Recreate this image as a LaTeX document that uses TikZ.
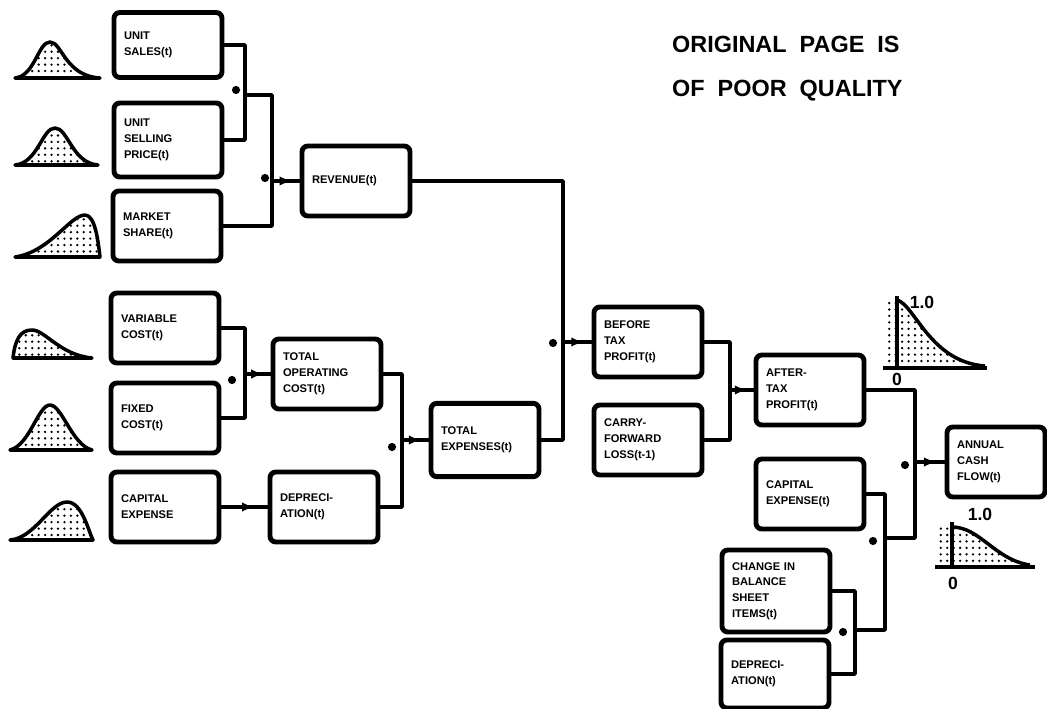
\documentclass[tikz,border=0pt]{standalone}
\usepackage{fontspec}
\setmainfont{Liberation Sans}
\usepackage{tikz}
\usetikzlibrary{arrows.meta,decorations.markings,patterns.meta}
\newcommand{\boxfont}{\fontsize{9.5}{13.5}\selectfont\bfseries}

\begin{document}
\begin{tikzpicture}[x=0.03cm, y=-0.03cm, line join=round,
  stage/.style={draw, line width=4.2pt, rounded corners=5pt, minimum height=2.1cm,
    text width=2.64cm, inner xsep=0.3cm, align=left, font=\boxfont},
  wire/.style={line width=3pt},
  feed/.style={wire, decoration={markings, mark=at position 0.7 with {\arrow[line width=1pt]{Latex[length=10pt,width=8pt]}}}, postaction={decorate}},
  mult/.style={circle, fill, inner sep=0pt, minimum size=7pt},
  dist/.style={line width=3pt, pattern={Dots[radius=1.1pt, distance=5.5pt]}},
  scale label/.style={font=\fontsize{15}{15}\selectfont\bfseries, inner sep=0pt}]
\useasboundingbox (0,0) rectangle (1047,709);

\node[font=\fontsize{20}{20}\selectfont\bfseries, anchor=base west] (note1) at (668,53) {ORIGINAL\ \ PAGE\ \ IS};
\node[font=\fontsize{20}{20}\selectfont\bfseries, anchor=base west] (note2) at (668,97) {OF\ \ POOR\ \ QUALITY};

% input distributions
\draw[dist] (15,78) .. controls (35,76) and (38,42) .. (50,42) .. controls (62,42) and (65,76) .. (100,78) -- cycle;
\draw[dist] (15,165) .. controls (38,163) and (42,128) .. (55,128) .. controls (68,128) and (72,163) .. (98,165) -- cycle;
\draw[dist] (15,257) .. controls (50,252) and (70,215) .. (85,215) .. controls (95,215) and (98,240) .. (100,257) -- cycle;
\draw[dist] (13,358) .. controls (15,340) and (20,330) .. (32,330) .. controls (45,330) and (60,355) .. (92,358) -- cycle;
\draw[dist] (10,450) .. controls (30,445) and (38,405) .. (50,405) .. controls (62,405) and (72,445) .. (92,450) -- cycle;
\draw[dist] (10,540) .. controls (35,538) and (50,502) .. (67,502) .. controls (82,502) and (88,530) .. (93,540) -- cycle;

% blocks
\node[stage, minimum height=1.95cm] (sales) at (168,45) {UNIT\\SALES(t)};
\node[stage, minimum height=2.22cm] (price) at (168,140) {UNIT\\SELLING\\PRICE(t)};
\node[stage] (share) at (167,226) {MARKET\\SHARE(t)};
\node[stage] (revenue) at (356,181) {REVENUE(t)};
\node[stage] (varcost) at (165,328) {VARIABLE\\COST(t)};
\node[stage] (fixcost) at (165,418) {FIXED\\COST(t)};
\node[stage] (capexp) at (165,507) {CAPITAL\\EXPENSE};
\node[stage] (opcost) at (327,374) {TOTAL\\OPERATING\\COST(t)};
\node[stage] (deprec) at (324,507) {DEPRECI-\\ATION(t)};
\node[stage, minimum height=2.2cm] (totexp) at (485,440) {TOTAL\\EXPENSES(t)};
\node[stage] (btprofit) at (648,342) {BEFORE\\TAX\\PROFIT(t)};
\node[stage] (carry) at (648,440) {CARRY-\\FORWARD\\LOSS(t-1)};
\node[stage] (atprofit) at (810,390) {AFTER-\\TAX\\PROFIT(t)};
\node[stage, text width=2.34cm] (cashflow) at (996,462) {ANNUAL\\CASH\\FLOW(t)};
\node[stage] (capexpt) at (810,494) {CAPITAL\\EXPENSE(t)};
\node[stage, minimum height=2.46cm] (change) at (776,591) {CHANGE IN\\BALANCE\\SHEET\\ITEMS(t)};
\node[stage, minimum height=2.04cm] (deprect) at (775,674) {DEPRECI-\\ATION(t)};

% junctions
\coordinate (j1) at (245,95);
\coordinate (j2) at (272,181);
\coordinate (j3) at (245,374);
\coordinate (j4) at (402,440);
\coordinate (j5) at (563,342);
\coordinate (j6) at (730,390);
\coordinate (j7) at (915,462);
\coordinate (j8) at (885,538);
\coordinate (j9) at (855,630);

\draw[wire] (sales.east) -| (j1);
\draw[wire] (price.east) -| (j1);
\draw[wire] (j1) -| (j2);
\draw[wire] (share.east) -| (j2);
\draw[feed] (j2) -- (revenue.west);

\draw[wire] (varcost.east) -| (j3);
\draw[wire] (fixcost.east) -| (j3);
\draw[feed] (j3) -- (opcost.west);
\draw[feed] (capexp.east) -- (deprec.west);
\draw[wire] (opcost.east) -| (j4);
\draw[wire] (deprec.east) -| (j4);
\draw[feed] (j4) -- (totexp.west);

\draw[wire] (revenue.east) -| (j5);
\draw[wire] (totexp.east) -| (j5);
\draw[feed] (j5) -- (btprofit.west);
\draw[wire] (btprofit.east) -| (j6);
\draw[wire] (carry.east) -| (j6);
\draw[feed] (j6) -- (atprofit.west);

\draw[wire] (change.east) -| (j9);
\draw[wire] (deprect.east) -| (j9);
\draw[wire] (j9) -| (j8);
\draw[wire] (capexpt.east) -| (j8);
\draw[wire] (j8) -| (j7);
\draw[wire] (atprofit.east) -| (j7);
\draw[feed] (j7) -- (cashflow.west);

% multiplication dots
\node[mult] (m1) at (236,90) {};
\node[mult] (m2) at (265,178) {};
\node[mult] (m3) at (232,380) {};
\node[mult] (m4) at (392,447) {};
\node[mult] (m5) at (553,343) {};
\node[mult] (m6) at (905,465) {};
\node[mult] (m7) at (873,541) {};
\node[mult] (m8) at (843,632) {};

% output distributions
\fill[pattern={Dots[radius=1.1pt, distance=5.5pt]}] (885,300) -- (897,300) .. controls (915,305) and (930,362) .. (985,366) -- (885,368) -- cycle;
\draw[line width=3pt] (897,300) .. controls (915,305) and (930,362) .. (985,366);
\draw[line width=3pt] (897,296) -- (897,368);
\draw[line width=3pt] (883,368) -- (987,368);
\node[scale label] (top1) at (922,302) {1.0};
\node[scale label] (top0) at (897,379) {0};

\fill[pattern={Dots[radius=1.1pt, distance=5.5pt]}] (937,527) -- (952,527) .. controls (980,527) and (995,560) .. (1030,565) -- (937,567) -- cycle;
\draw[line width=3pt] (952,527) .. controls (980,527) and (995,560) .. (1030,565);
\draw[line width=3pt] (952,522) -- (952,567);
\draw[line width=3pt] (935,567) -- (1035,567);
\node[scale label] (bot1) at (980,514) {1.0};
\node[scale label] (bot0) at (953,583) {0};
\end{tikzpicture}
\end{document}
